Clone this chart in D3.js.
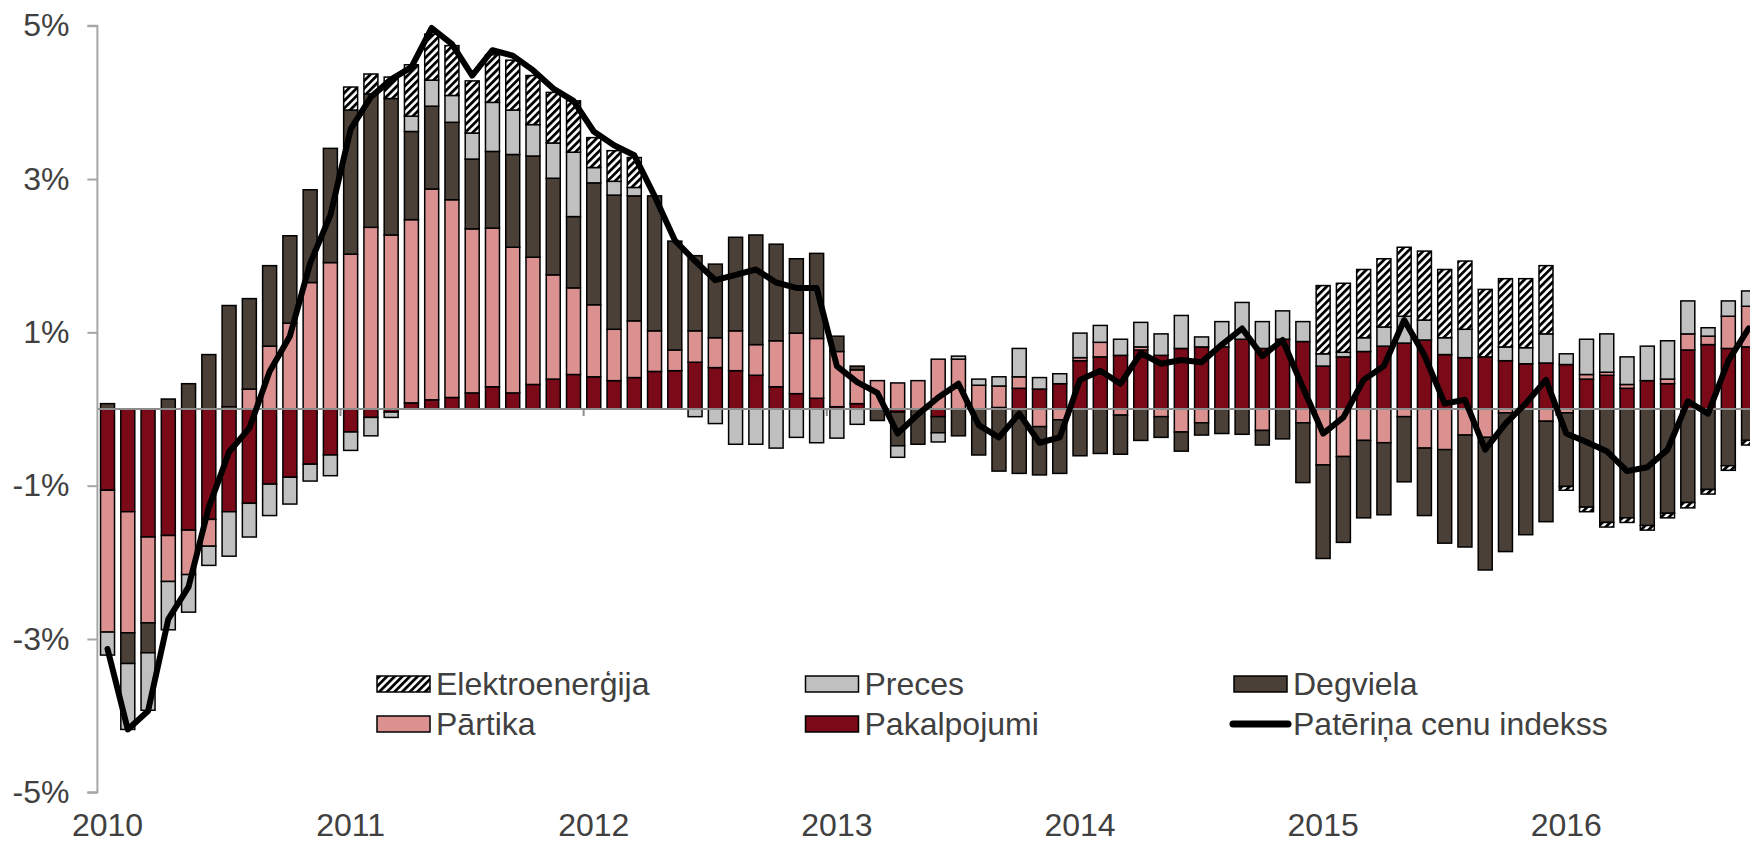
<!DOCTYPE html>
<html><head><meta charset="utf-8">
<script src="https://cdn.jsdelivr.net/npm/d3@7"></script>
<style>
html,body{margin:0;padding:0;background:#fff;}
svg{display:block;font-family:"Liberation Sans",Arial,sans-serif;}
</style></head>
<body><svg id="chart" width="1750" height="844"></svg>
<script>
// Months Jan 2010 .. Oct 2016
const years = [2010, 2011, 2012, 2013, 2014, 2015, 2016];
const months = d3.range(82).map(i => ({y: 2010 + Math.floor(i / 12), m: i % 12}));

const pakalpojumi = [-1.06,-1.34,-1.67,-1.65,-1.58,-1.44,-1.34,-1.23,-0.98,-0.89,-0.72,-0.60,
  -0.30,-0.11,-0.04,0.08,0.12,0.15,0.21,0.29,0.21,0.32,0.39,0.45,
  0.42,0.37,0.41,0.49,0.50,0.61,0.54,0.50,0.44,0.29,0.20,0.14,
  0.03,0.07,0.00,-0.04,0.00,-0.10,0.00,0.00,0.02,0.27,0.26,0.33,
  0.63,0.68,0.70,0.77,0.70,0.79,0.81,0.81,0.91,0.79,0.91,0.88,
  0.56,0.68,0.75,0.82,0.86,0.90,0.71,0.67,0.68,0.63,0.59,0.60,
  0.58,0.39,0.44,0.27,0.37,0.33,0.77,0.84,0.79,0.81];
const partika = [-1.85,-1.58,-1.12,-0.60,-0.58,-0.35,0.03,0.26,0.82,1.12,1.65,1.91,
  2.02,2.37,2.27,2.39,2.75,2.58,2.14,2.07,1.90,1.66,1.36,1.13,
  0.94,0.67,0.74,0.53,0.27,0.41,0.39,0.52,0.40,0.60,0.79,0.78,
  0.72,0.44,0.37,0.34,0.37,0.65,0.65,0.31,0.28,0.15,-0.23,-0.14,
  0.04,0.19,-0.08,0.04,-0.10,-0.30,-0.18,0.00,0.00,-0.28,0.00,-0.18,
  -0.73,-0.62,-0.41,-0.44,-0.10,-0.51,-0.53,-0.34,-0.37,-0.05,0.00,-0.16,
  -0.05,0.06,0.04,0.05,0.00,0.06,0.21,0.11,0.42,0.53];
const degviela = [0.07,-0.40,-0.39,0.13,0.33,0.71,1.32,1.18,1.05,1.14,1.21,1.49,
  1.88,1.74,1.78,1.15,1.08,1.01,0.91,1.00,1.21,1.32,1.26,0.93,
  1.59,1.75,1.63,1.76,1.42,0.98,0.96,1.22,1.43,1.26,0.97,1.11,
  0.20,0.05,-0.15,-0.44,-0.46,-0.21,-0.35,-0.60,-0.81,-0.84,-0.63,-0.70,
  -0.61,-0.58,-0.51,-0.41,-0.27,-0.25,-0.16,-0.32,-0.33,-0.19,-0.39,-0.78,
  -1.22,-1.12,-1.01,-0.94,-0.85,-0.88,-1.22,-1.46,-1.73,-1.81,-1.64,-1.31,
  -0.96,-1.28,-1.48,-1.42,-1.52,-1.36,-1.22,-1.05,-0.74,-0.41];
const preces = [-0.30,-0.86,-0.75,-0.63,-0.49,-0.25,-0.58,-0.44,-0.41,-0.35,-0.22,-0.27,
  -0.24,-0.24,-0.07,0.20,0.34,0.35,0.34,0.64,0.58,0.41,0.46,0.84,
  0.20,0.18,0.11,0.00,0.00,-0.10,-0.19,-0.46,-0.46,-0.51,-0.37,-0.44,
  -0.38,-0.20,0.00,-0.15,0.00,-0.12,0.04,0.08,0.12,0.37,0.15,0.13,
  0.32,0.22,0.21,0.32,0.28,0.43,0.13,0.33,0.48,0.35,0.37,0.26,
  0.16,0.06,0.18,0.25,0.35,0.26,0.22,0.37,0.00,0.18,0.21,0.38,
  0.14,0.46,0.50,0.36,0.45,0.50,0.43,0.11,0.20,0.20];
const elektro = [0,0,0,0,0,0,0,0,0,0,0,0,
  0.30,0.26,0.28,0.67,0.60,0.65,0.68,0.62,0.65,0.64,0.66,0.67,
  0.39,0.40,0.39,0,0,0,0,0,0,0,0,0,
  0,0,0,0,0,0,0,0,0,0,0,0,
  0,0,0,0,0,0,0,0,0,0,0,0,
  0.89,0.90,0.89,0.89,0.90,0.90,0.89,0.89,0.88,0.89,0.90,0.89,
  -0.05,-0.06,-0.06,-0.06,-0.06,-0.06,-0.07,-0.06,-0.06,-0.06];
const pci = [-3.13,-4.18,-3.94,-2.74,-2.32,-1.28,-0.56,-0.25,0.49,0.95,1.90,2.53,
  3.65,4.07,4.30,4.46,4.97,4.76,4.35,4.68,4.61,4.42,4.18,4.02,
  3.62,3.44,3.31,2.78,2.20,1.93,1.68,1.75,1.82,1.65,1.58,1.58,
  0.56,0.35,0.21,-0.32,-0.07,0.15,0.33,-0.21,-0.37,-0.06,-0.44,-0.37,
  0.38,0.50,0.33,0.73,0.59,0.64,0.61,0.84,1.05,0.69,0.90,0.28,
  -0.32,-0.11,0.38,0.56,1.16,0.70,0.07,0.12,-0.53,-0.19,0.07,0.38,
  -0.32,-0.43,-0.55,-0.81,-0.76,-0.53,0.10,-0.06,0.63,1.05];

const yTicks = [5, 3, 1, -1, -3, -5];
const seriesNames = ["Pakalpojumi", "Pārtika", "Degviela", "Preces", "Elektroenerģija"];
const seriesValues = [pakalpojumi, partika, degviela, preces, elektro];
const lineName = "Patēriņa cenu indekss";

const colors = {
  "Pakalpojumi": "#7a0a18",
  "Pārtika": "#dc9191",
  "Degviela": "#4a4037",
  "Preces": "#c0c0c0",
  "Elektroenerģija": "url(#hatch)"
};

const rows = months.map((d, i) => {
  const r = {i};
  seriesNames.forEach((n, k) => r[n] = seriesValues[k][i]);
  return r;
});

const FS = 32;
const svg = d3.select("#chart");
const defs = svg.append("defs");
const pat = defs.append("pattern").attr("id", "hatch").attr("patternUnits", "userSpaceOnUse")
  .attr("width", 5.4).attr("height", 5.4).attr("patternTransform", "rotate(45)");
pat.append("rect").attr("width", 5.4).attr("height", 5.4).attr("fill", "#fff");
pat.append("rect").attr("width", 2.8).attr("height", 5.4).attr("fill", "#000");

const x0 = 97.4, step = 20.26;
const x = d3.scaleBand().domain(d3.range(82)).range([x0, x0 + 82 * step]).paddingInner(0.31).paddingOuter(0.155);
const y = d3.scaleLinear().domain([-5, 5]).range([792.3, 25.7]);

const stack = d3.stack().keys(seriesNames).offset(d3.stackOffsetDiverging).order(d3.stackOrderNone);
const stacked = stack(rows);

const gBars = svg.append("g");
stacked.forEach(s => {
  gBars.append("g").selectAll("rect").data(s).join("rect")
    .attr("x", (d, i) => x(i))
    .attr("width", x.bandwidth())
    .attr("y", d => y(Math.max(d[0], d[1])))
    .attr("height", d => Math.abs(y(d[0]) - y(d[1])))
    .attr("fill", colors[s.key])
    .attr("stroke", "#000")
    .attr("stroke-width", 1.5)
    .attr("display", d => Math.abs(d[1] - d[0]) < 1e-9 ? "none" : null);
});

// zero line
svg.append("line").attr("x1", x0).attr("x2", 1750).attr("y1", y(0)).attr("y2", y(0))
  .attr("stroke", "#8c8c8c").attr("stroke-width", 2);
// year ticks on zero line
years.forEach(yr => {
  const i = (yr - 2010) * 12;
  if (i === 0) return;
  const xx = x0 + i * step;
  svg.append("line").attr("x1", xx).attr("x2", xx).attr("y1", y(0)).attr("y2", y(0) + 7)
    .attr("stroke", "#8c8c8c").attr("stroke-width", 2);
});

// y axis
const yAxis = d3.axisLeft(y).tickValues(yTicks).tickFormat(d => d + "%").tickSize(10).tickPadding(18);
const gy = svg.append("g").attr("transform", `translate(${x0},0)`).call(yAxis);
gy.select(".domain").attr("stroke", "#a6a6a6").attr("stroke-width", 2).attr("d", `M-10,${y(5)}H0V${y(-5)}H-10`);
gy.selectAll(".tick line").attr("stroke", "#a6a6a6").attr("stroke-width", 2);
gy.selectAll(".tick text").attr("font-size", FS).attr("fill", "#404040")
  .attr("font-family", "'Liberation Sans', Arial, sans-serif");

// x labels
svg.append("g").selectAll("text").data(years).join("text")
  .attr("x", yr => x((yr - 2010) * 12) + x.bandwidth() / 2)
  .attr("y", 836)
  .attr("text-anchor", "middle")
  .attr("font-size", FS).attr("fill", "#404040")
  .text(d => d);

// CPI line
const line = d3.line().x((d, i) => x(i) + x.bandwidth() / 2).y(d => y(d));
svg.append("path").datum(pci).attr("d", line).attr("fill", "none")
  .attr("stroke", "#000").attr("stroke-width", 6).attr("stroke-linejoin", "round").attr("stroke-linecap", "round");

// legend
const legendItems = [
  {name: "Elektroenerģija", col: 0, row: 0, type: "rect"},
  {name: "Preces", col: 1, row: 0, type: "rect"},
  {name: "Degviela", col: 2, row: 0, type: "rect"},
  {name: "Pārtika", col: 0, row: 1, type: "rect"},
  {name: "Pakalpojumi", col: 1, row: 1, type: "rect"},
  {name: lineName, col: 2, row: 1, type: "line"}
];
const lg = svg.append("g");
legendItems.forEach(it => {
  const lx = 377 + it.col * 428.5;
  const cy = 684 + it.row * 40;
  if (it.type === "rect") {
    lg.append("rect").attr("x", lx).attr("y", cy - 8).attr("width", 53).attr("height", 16)
      .attr("fill", colors[it.name]).attr("stroke", "#000").attr("stroke-width", 1.5);
  } else {
    lg.append("line").attr("x1", lx - 1).attr("x2", lx + 54).attr("y1", cy).attr("y2", cy)
      .attr("stroke", "#000").attr("stroke-width", 7).attr("stroke-linecap", "round");
  }
  lg.append("text").attr("x", lx + 59).attr("y", cy + 11).attr("font-size", FS)
    .attr("fill", "#404040").text(it.name);
});
</script></body></html>
